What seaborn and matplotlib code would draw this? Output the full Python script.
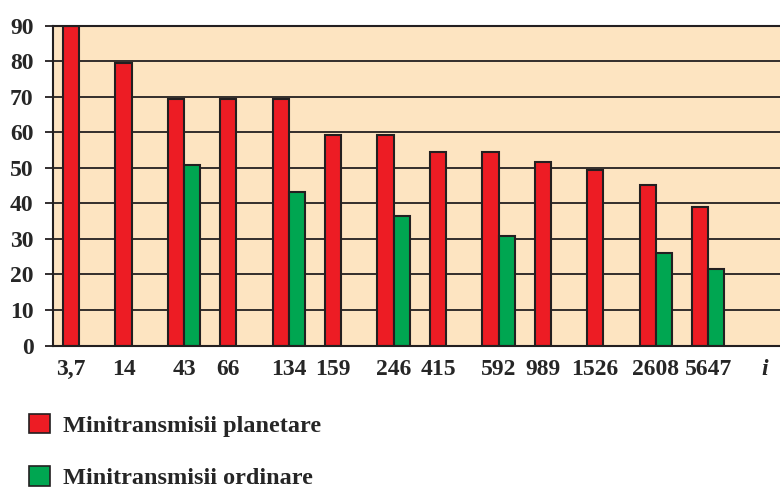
import matplotlib
matplotlib.use("Agg")
import matplotlib.pyplot as plt
from matplotlib.patches import Patch
import seaborn as sns
import pandas as pd

# Data
ratios = ['3,7', '14', '43', '66', '134', '159', '246', '415', '592', '989', '1526', '2608', '5647']
planetare = [90, 79.5, 69.3, 69.3, 69.3, 59.4, 59.4, 54.6, 54.6, 51.6, 49.3, 45.1, 39.1]
ordinare = [None, None, 50.8, None, 43.3, None, 36.5, None, 30.9, None, None, 26.0, 21.6]
series = ['Minitransmisii planetare', 'Minitransmisii ordinare']
colors = ['#ED1C24', '#00A651']
yticks = [0, 10, 20, 30, 40, 50, 60, 70, 80, 90]

rows = []
for r, p, o in zip(ratios, planetare, ordinare):
    rows.append({'ratio': r, 'series': series[0], 'value': p})
    if o is not None:
        rows.append({'ratio': r, 'series': series[1], 'value': o})
df = pd.DataFrame(rows)

sns.set_style("white")
plt.rcParams['font.family'] = ['Liberation Serif', 'DejaVu Serif']
plt.rcParams['font.weight'] = 'bold'

edge = '#231F20'
fig = plt.figure(figsize=(7.8, 4.88), dpi=100)
ax = fig.add_axes([0.068, 0.292, 0.932, 0.655])
ax.set_facecolor('#FDE4C1')

bar_w = 0.62
sns.barplot(data=df, x='ratio', y='value', hue='series', order=ratios,
            hue_order=series, palette=colors, width=bar_w, saturation=1,
            edgecolor=edge, linewidth=1.5, legend=False, ax=ax)

ax.set_xlim(-0.5, 13.37)
ax.set_ylim(0, 90)
ax.set_axisbelow(True)
ax.yaxis.grid(True, color=edge, linewidth=1.3)
ax.xaxis.grid(False)
for s in ['top', 'left', 'bottom']:
    ax.spines[s].set_visible(True)
    ax.spines[s].set_color(edge)
    ax.spines[s].set_linewidth(1.5)
ax.spines['right'].set_visible(False)

# tick labels: centred on the pair, or on the red bar when alone
xpos = [i if o is not None else i - bar_w / 4 for i, o in enumerate(ordinare)]
ax.set_xticks(xpos + [13.08])
ax.set_xticklabels(ratios + ['i'], fontsize=17, fontweight='bold')
ax.get_xticklabels()[-1].set_style('italic')
ax.tick_params(axis='x', length=0, pad=10)

ax.set_yticks(yticks)
ax.set_yticklabels([str(v) for v in yticks], fontsize=17, fontweight='bold')
ax.tick_params(axis='y', direction='out', length=6, width=1.3, color=edge, pad=8, left=True)
ax.set_xlabel('')
ax.set_ylabel('')

handles = [Patch(facecolor=c, edgecolor=edge, linewidth=1.2) for c in colors]
fig.legend(handles, series, loc='upper left', bbox_to_anchor=(0.025, 0.172),
           frameon=False, prop={'size': 17.5, 'weight': 'bold'},
           handlelength=0.86, handleheight=0.86, handletextpad=0.55,
           labelspacing=1.2, borderaxespad=0)

fig.savefig('out.png', dpi=100)
